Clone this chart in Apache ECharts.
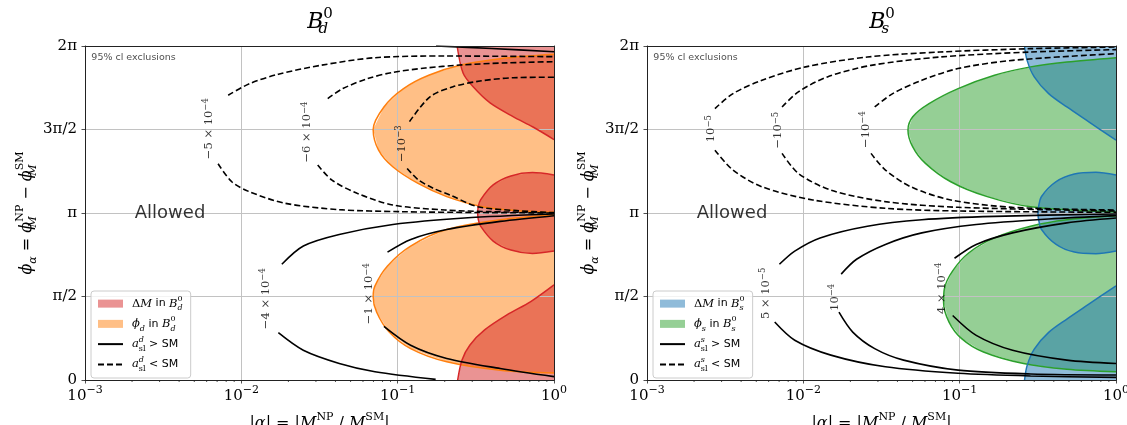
<!DOCTYPE html>
<html>
<head>
<meta charset="utf-8">
<title>Mixing phase exclusions</title>
<script src="https://cdn.jsdelivr.net/npm/echarts@6/dist/echarts.min.js"></script>
</head>
<body style="margin:0">
<div id="chart" style="width:1127px;height:425px;"></div>
<script>
// x = |alpha| (log axis), y = phi_alpha in units of pi

// ---- B_d panel ----
const dmdTop = [[0.240, 2], [0.262, 1.838], [0.303, 1.757], [0.390, 1.659], [0.547, 1.577], [0.734, 1.515], [1, 1.44]];
const dmdBlob = [[1, 1.228], [0.728, 1.242], [0.53, 1.222], [0.408, 1.168], [0.339, 1.079], [0.328, 1.04], [0.325, 1],
                 [0.328, 0.96], [0.339, 0.921], [0.408, 0.832], [0.53, 0.778], [0.728, 0.758], [1, 0.772]];
const dmdBottom = [[0.242, 0], [0.258, 0.12], [0.29, 0.21], [0.36, 0.3], [0.5, 0.39], [0.71, 0.47], [1, 0.57]];
const phidUpper = [[1, 1.95], [0.453, 1.924], [0.254, 1.886], [0.158, 1.825], [0.109, 1.745], [0.0817, 1.635], [0.0697, 1.5],
                   [0.0755, 1.376], [0.093, 1.277], [0.135, 1.177], [0.206, 1.098], [0.348, 1.038], [0.59, 1.014], [1, 1.004]];
const phidLower = [[1, 0.99], [0.453, 0.96], [0.206, 0.901], [0.121, 0.802], [0.0861, 0.683], [0.0716, 0.564], [0.0697, 0.499],
                   [0.0734, 0.406], [0.0883, 0.287], [0.121, 0.188], [0.206, 0.109], [0.453, 0.059], [1, 0.042]];

const asldPosA = [[0.01816, 0.693], [0.02494, 0.802], [0.04227, 0.871], [0.0932, 0.931], [0.267, 0.970], [1, 0.994]];
const asldPosALow = [[0.01725, 0.283], [0.0249, 0.178], [0.0423, 0.099], [0.0716, 0.0495], [0.175, 0.004]];
const asldPosAWrap = [[0.176, 2], [0.4, 1.985], [1, 1.966]];
const asldPosB = [[0.0861, 0.766], [0.1214, 0.842], [0.206, 0.901], [0.453, 0.950], [1, 0.984]];
const asldPosBLow = [[0.0817, 0.321], [0.121, 0.208], [0.206, 0.129], [0.453, 0.069], [1, 0.02]];

const asldNegA = [[0.00824, 1.705], [0.0113, 1.775], [0.01725, 1.831], [0.0325, 1.885], [0.0716, 1.93], [0.2, 1.94], [1, 1.936]];
const asldNegALow = [[0.0071, 1.295], [0.00869, 1.187], [0.0113, 1.127], [0.0191, 1.058], [0.0423, 1.02], [0.1035, 1.008], [0.33, 1.003], [1, 1.0]];
const asldNegB = [[0.0357, 1.685], [0.0446, 1.745], [0.0644, 1.805], [0.093, 1.842], [0.15, 1.868], [0.25, 1.886], [0.5, 1.899], [1, 1.906]];
const asldNegBLow = [[0.0308, 1.287], [0.038, 1.197], [0.055, 1.118], [0.093, 1.048], [0.2, 1.018], [0.4, 1.008], [1, 1.001]];
const asldNegC = [[0.119, 1.547], [0.161, 1.696], [0.226, 1.756], [0.336, 1.790], [0.547, 1.810], [1, 1.813]];
const asldNegCLow = [[0.115, 1.267], [0.135, 1.2], [0.169, 1.148], [0.216, 1.108], [0.325, 1.038], [0.578, 1.014], [1, 1.002]];

const tagsD = [[0.00617, 1.505, '−5 × 10^−4'], [0.0263, 1.485, '−6 × 10^−4'], [0.106, 1.415, '−10^−3'],
               [0.0143, 0.487, '−4 × 10^−4'], [0.066, 0.517, '−1 × 10^−4']];

// ---- B_s panel ----
const dmsTop = [[0.260, 2], [0.270, 1.914], [0.300, 1.815], [0.371, 1.715], [0.485, 1.635], [0.670, 1.546], [1, 1.436]];
const dmsBlob = [[1, 1.228], [0.744, 1.244], [0.541, 1.234], [0.414, 1.188], [0.334, 1.099], [0.320, 1.04], [0.317, 1],
                 [0.320, 0.96], [0.334, 0.901], [0.414, 0.812], [0.541, 0.766], [0.744, 0.756], [1, 0.772]];
const dmsBottom = [[0.260, 0], [0.270, 0.086], [0.300, 0.185], [0.371, 0.285], [0.485, 0.365], [0.670, 0.454], [1, 0.564]];
const phisUpper = [[1, 1.93], [0.485, 1.904], [0.284, 1.875], [0.167, 1.825], [0.0977, 1.745], [0.0637, 1.655], [0.0501, 1.576],
                   [0.0467, 1.496], [0.0501, 1.396], [0.0604, 1.297], [0.0877, 1.187], [0.150, 1.098], [0.284, 1.038], [1, 1.006]];
const phisLower = [[1, 0.984], [0.485, 0.960], [0.284, 0.921], [0.167, 0.851], [0.1146, 0.762], [0.0902, 0.653], [0.0798, 0.545],
                   [0.0789, 0.465], [0.0855, 0.347], [0.103, 0.248], [0.142, 0.168], [0.256, 0.099], [0.485, 0.065], [1, 0.05]];

const aslsPosA = [[0.00703, 0.693], [0.00881, 0.772], [0.0128, 0.851], [0.0257, 0.921], [0.0573, 0.960], [0.167, 0.980], [1, 0.994]];
const aslsPosALow = [[0.00656, 0.347], [0.00881, 0.238], [0.0150, 0.149], [0.0335, 0.079], [0.0977, 0.040], [0.284, 0.024], [1, 0.016]];
const aslsPosB = [[0.01746, 0.634], [0.0219, 0.723], [0.0335, 0.812], [0.0573, 0.881], [0.1276, 0.931], [0.371, 0.964], [1, 0.984]];
const aslsPosBLow = [[0.0169, 0.406], [0.0207, 0.287], [0.0286, 0.188], [0.0438, 0.119], [0.0977, 0.059], [0.284, 0.036], [1, 0.030]];
const aslsPosC = [[0.0927, 0.729], [0.1276, 0.812], [0.218, 0.881], [0.485, 0.941], [1, 0.970]];
const aslsPosCLow = [[0.0902, 0.386], [0.1276, 0.267], [0.218, 0.178], [0.485, 0.119], [1, 0.099]];

const aslsNegA = [[0.00272, 1.625], [0.00355, 1.715], [0.00544, 1.795], [0.01035, 1.875], [0.0257, 1.934], [0.0748, 1.964], [0.284, 1.984], [1, 1.994]];
const aslsNegALow = [[0.00272, 1.376], [0.00355, 1.257], [0.00544, 1.157], [0.0115, 1.078], [0.0335, 1.028], [0.0977, 1.012], [1, 1.004]];
const aslsNegB = [[0.00731, 1.635], [0.00929, 1.725], [0.01425, 1.815], [0.0271, 1.884], [0.0748, 1.934], [0.284, 1.964], [1, 1.978]];
const aslsNegBLow = [[0.00731, 1.357], [0.00929, 1.237], [0.0150, 1.137], [0.0335, 1.068], [0.0977, 1.034], [1, 1.012]];
const aslsNegC = [[0.0286, 1.635], [0.0373, 1.715], [0.0573, 1.795], [0.0977, 1.865], [0.218, 1.914], [1, 1.954]];
const aslsNegCLow = [[0.0271, 1.357], [0.0335, 1.257], [0.0487, 1.157], [0.0877, 1.078], [0.218, 1.034], [1, 1.018]];

const tagsS = [[0.00258, 1.505, '10^−5'], [0.00692, 1.496, '−10^−5'], [0.025, 1.5, '−10^−4'],
               [0.00574, 0.519, '5 × 10^−5'], [0.01585, 0.495, '10^−4'], [0.0767, 0.549, '4 × 10^−4']];

// text annotations (both panels)
const notes = [[0.00109, 1.928, '95% cl exclusions'], [0.0035, 1.0, 'Allowed']];
const yTickText = {0: '0', 0.5: 'π/2', 1: 'π', 1.5: '3π/2', 2: '2π'};
const minorTickValues = [0.002, 0.003, 0.004, 0.005, 0.006, 0.007, 0.008, 0.009,
                         0.02, 0.03, 0.04, 0.05, 0.06, 0.07, 0.08, 0.09,
                         0.2, 0.3, 0.4, 0.5, 0.6, 0.7, 0.8, 0.9];

const serif = 'DejaVu Serif';
const sans = 'DejaVu Sans';
const red = 'rgba(214,39,40,0.5)', orange = 'rgba(255,127,14,0.5)';
const blue = 'rgba(31,119,180,0.5)', green = 'rgba(44,160,44,0.5)';

const mathRich = function (size) {
  const s = Math.round(size * 0.68);
  return {
    i: {fontFamily: serif, fontStyle: 'italic', fontSize: size, lineHeight: size * 1.5},
    m: {fontFamily: serif, fontSize: size, lineHeight: size * 1.5},
    t: {fontFamily: serif, fontSize: s, lineHeight: s, verticalAlign: 'top'},
    zti: {fontFamily: serif, fontStyle: 'italic', fontSize: s, lineHeight: s, verticalAlign: 'top', width: 0},
    zb: {fontFamily: serif, fontSize: s, lineHeight: s, verticalAlign: 'bottom', width: 0},
    zbi: {fontFamily: serif, fontStyle: 'italic', fontSize: s, lineHeight: s, verticalAlign: 'bottom', width: 0},
    si: {fontFamily: serif, fontStyle: 'italic', fontSize: s, lineHeight: s, verticalAlign: 'bottom'},
    sr: {fontFamily: serif, fontSize: s, lineHeight: s, verticalAlign: 'bottom'},
    e: {fontFamily: serif, fontSize: s, lineHeight: s, verticalAlign: 'top'}
  };
};

function fill(name, pts, color, g, z) {
  return {
    type: 'custom', name: name, xAxisIndex: g, yAxisIndex: g, z: z, silent: true,
    itemStyle: {color: color}, data: pts,
    renderItem: function (params, api) {
      if (params.dataIndex !== 0) return null;
      return {type: 'polygon', shape: {points: pts.map(function (p) { return api.coord(p); })},
              style: {fill: color}};
    }
  };
}

function edge(pts, color, g) {
  return {type: 'line', xAxisIndex: g, yAxisIndex: g, z: 4, data: pts, symbol: 'none', smooth: 0.3,
          silent: true, lineStyle: {color: color, width: 1.5}};
}

function contour(name, pts, dashed, g) {
  return {type: 'line', name: name, xAxisIndex: g, yAxisIndex: g, z: 5, data: pts, symbol: 'none',
          smooth: 0.3, silent: true, itemStyle: {color: '#000'},
          lineStyle: {color: '#000', width: 1.6, type: dashed ? [6, 3] : 'solid'}};
}

function tags(list, g) {
  return {
    type: 'scatter', xAxisIndex: g, yAxisIndex: g, z: 6, symbolSize: 1, silent: true,
    itemStyle: {color: 'rgba(0,0,0,0)'},
    data: list.map(function (t) { return {value: [t[0], t[1]], tag: t[2]}; }),
    label: {
      show: true, position: 'inside', rotate: 90, color: '#000', fontFamily: serif, fontSize: 11.5, lineHeight: 14,
      formatter: function (p) { return p.data.tag.replace(/\^(\S+)/, '{e|$1}'); },
      rich: {e: {fontFamily: serif, fontSize: 8.5, lineHeight: 8, verticalAlign: 'top'}}
    }
  };
}

function annotations(g) {
  return {
    type: 'scatter', xAxisIndex: g, yAxisIndex: g, z: 6, symbolSize: 1, silent: true,
    itemStyle: {color: 'rgba(0,0,0,0)'},
    data: [
      {value: [notes[0][0], notes[0][1]], label: {show: true, position: 'right', distance: 0,
        formatter: notes[0][2], fontFamily: sans, fontSize: 9.5, color: '#222'}},
      {value: [notes[1][0], notes[1][1]], label: {show: true, position: 'inside',
        formatter: notes[1][2], fontFamily: sans, fontSize: 18, color: '#000'}}
    ]
  };
}

function minorTicks(g) {
  return {
    type: 'custom', xAxisIndex: g, yAxisIndex: g, z: 6, silent: true,
    data: minorTickValues.map(function (v) { return [v, 0]; }),
    renderItem: function (params, api) {
      const p = api.coord([api.value(0), 0]);
      return {type: 'line', shape: {x1: p[0], y1: p[1], x2: p[0], y2: p[1] + 2},
              style: {stroke: '#222', lineWidth: 0.8}};
    }
  };
}

function mainX(g) {
  return {
    type: 'log', gridIndex: g, min: 0.001, max: 1, logBase: 10, splitNumber: 3, z: 3,
    name: '|{i|α}| = |{i|M}{zb|12}{t|NP} / {i|M}{zb|12}{t|SM}|', nameLocation: 'middle', nameGap: 16,
    nameTextStyle: {fontFamily: serif, fontSize: 16, lineHeight: 24, color: '#000', rich: mathRich(16)},
    axisLine: {show: true, onZero: false, lineStyle: {color: '#222', width: 1}},
    axisTick: {show: true, length: 3.5, lineStyle: {color: '#222', width: 0.8}},
    axisLabel: {
      color: '#000', fontFamily: serif, fontSize: 15, lineHeight: 22, margin: 5,
      formatter: function (v) {
        const e = Math.round(Math.log10(v));
        return '10{e|' + (e < 0 ? '−' + (-e) : e) + '}';
      },
      rich: {e: {fontFamily: serif, fontSize: 11, lineHeight: 10, verticalAlign: 'top'}}
    },
    splitLine: {show: true, showMinLine: false, showMaxLine: false, lineStyle: {color: '#c2c2c2', width: 1}}
  };
}

function mainY(g) {
  return {
    type: 'value', gridIndex: g, min: 0, max: 2, interval: 0.5, z: 3,
    name: '{i|ϕ}{si|α} = {i|ϕ}{zbi|M}{t|NP} − {i|ϕ}{zbi|M}{t|SM}', nameLocation: 'middle', nameGap: 46, nameRotate: 90,
    nameTextStyle: {fontFamily: serif, fontSize: 16, lineHeight: 24, color: '#000', rich: mathRich(16)},
    axisLine: {show: true, lineStyle: {color: '#222', width: 1}},
    axisTick: {show: true, length: 3.5, lineStyle: {color: '#222', width: 0.8}},
    axisLabel: {color: '#000', fontFamily: serif, fontSize: 15, margin: 8,
      formatter: function (v) { return yTickText[v]; }},
    splitLine: {show: true, showMinLine: false, showMaxLine: false, lineStyle: {color: '#c2c2c2', width: 1}}
  };
}

function spine(kind, g) {
  return {
    type: 'value', gridIndex: g, min: 0, max: 1, z: 6, position: kind,
    axisLine: {show: true, onZero: false, lineStyle: {color: '#222', width: 1}},
    axisTick: {show: false}, axisLabel: {show: false}, splitLine: {show: false}
  };
}

const legendText = {
  dM_d: '{m|Δ}{i|M} in {i|B}{zbi|d}{t|0}',
  phi_d: '{i|ϕ}{si|d} in {i|B}{zbi|d}{t|0}',
  pos_d: '{i|a}{zti|d}{sr|sl} > SM',
  neg_d: '{i|a}{zti|d}{sr|sl} < SM',
  dM_s: '{m|Δ}{i|M} in {i|B}{zbi|s}{t|0}',
  phi_s: '{i|ϕ}{si|s} in {i|B}{zbi|s}{t|0}',
  pos_s: '{i|a}{zti|s}{sr|sl} > SM',
  neg_s: '{i|a}{zti|s}{sr|sl} < SM'
};

function legend(left, k) {
  const noDot = {color: 'rgba(0,0,0,0)', borderWidth: 0, opacity: 0};
  return {
    left: left, top: 291, orient: 'vertical', z: 10, selectedMode: false,
    data: [{name: 'dM_' + k, icon: 'rect'}, {name: 'phi_' + k, icon: 'rect'},
           {name: 'pos_' + k, itemStyle: noDot}, {name: 'neg_' + k, itemStyle: noDot}],
    itemWidth: 25, itemHeight: 8, itemGap: 3, padding: [4, 8, 5, 6],
    backgroundColor: 'rgba(255,255,255,0.8)', borderColor: '#cccccc', borderWidth: 1, borderRadius: 3,
    formatter: function (n) { return legendText[n]; },
    textStyle: {fontFamily: sans, fontSize: 11, lineHeight: 16, color: '#000', padding: [0, 0, 0, 4], rich: mathRich(11.5)}
  };
}

const series = [
  fill('phi_d', phidUpper, orange, 0, 1),
  fill('phi_d', phidLower, orange, 0, 1),
  fill('dM_d', dmdTop.concat([[1, 2]]), red, 0, 2),
  fill('dM_d', dmdBlob, red, 0, 2),
  fill('dM_d', dmdBottom.concat([[1, 0]]), red, 0, 2),
  edge(phidUpper, '#ff7f0e', 0), edge(phidLower, '#ff7f0e', 0),
  edge(dmdTop, '#d62728', 0), edge(dmdBlob, '#d62728', 0), edge(dmdBottom, '#d62728', 0),
  contour('pos_d', asldPosA, false, 0), contour('pos_d', asldPosALow, false, 0), contour('pos_d', asldPosAWrap, false, 0),
  contour('pos_d', asldPosB, false, 0), contour('pos_d', asldPosBLow, false, 0),
  contour('neg_d', asldNegA, true, 0), contour('neg_d', asldNegALow, true, 0),
  contour('neg_d', asldNegB, true, 0), contour('neg_d', asldNegBLow, true, 0),
  contour('neg_d', asldNegC, true, 0), contour('neg_d', asldNegCLow, true, 0),
  tags(tagsD, 0), annotations(0), minorTicks(0),

  fill('phi_s', phisUpper, green, 1, 1),
  fill('phi_s', phisLower, green, 1, 1),
  fill('dM_s', dmsTop.concat([[1, 2]]), blue, 1, 2),
  fill('dM_s', dmsBlob, blue, 1, 2),
  fill('dM_s', dmsBottom.concat([[1, 0]]), blue, 1, 2),
  edge(phisUpper, '#2ca02c', 1), edge(phisLower, '#2ca02c', 1),
  edge(dmsTop, '#1f77b4', 1), edge(dmsBlob, '#1f77b4', 1), edge(dmsBottom, '#1f77b4', 1),
  contour('pos_s', aslsPosA, false, 1), contour('pos_s', aslsPosALow, false, 1),
  contour('pos_s', aslsPosB, false, 1), contour('pos_s', aslsPosBLow, false, 1),
  contour('pos_s', aslsPosC, false, 1), contour('pos_s', aslsPosCLow, false, 1),
  contour('neg_s', aslsNegA, true, 1), contour('neg_s', aslsNegALow, true, 1),
  contour('neg_s', aslsNegB, true, 1), contour('neg_s', aslsNegBLow, true, 1),
  contour('neg_s', aslsNegC, true, 1), contour('neg_s', aslsNegCLow, true, 1),
  tags(tagsS, 1), annotations(1), minorTicks(1)
];

const titleRich = {
  b: {fontFamily: serif, fontStyle: 'italic', fontSize: 22, lineHeight: 30},
  t: {fontFamily: serif, fontSize: 15, lineHeight: 15, verticalAlign: 'top'},
  zbi: {fontFamily: serif, fontStyle: 'italic', fontSize: 15, lineHeight: 15, verticalAlign: 'bottom', width: 0}
};

const option = {
  backgroundColor: '#fff',
  animation: false,
  grid: [
    {left: 85, top: 46, width: 469, height: 334, outerBoundsMode: 'none'},
    {left: 647, top: 46, width: 469, height: 334, outerBoundsMode: 'none'}
  ],
  xAxis: [mainX(0), mainX(1), spine('top', 0), spine('top', 1)],
  yAxis: [mainY(0), mainY(1), spine('right', 0), spine('right', 1)],
  legend: [legend(91, 'd'), legend(653, 's')],
  graphic: [
    {type: 'text', x: 320, y: 22, z: 10, style: {text: '{b|B}{zbi|d}{t|0}', rich: titleRich, align: 'center', verticalAlign: 'middle'}},
    {type: 'text', x: 882, y: 22, z: 10, style: {text: '{b|B}{zbi|s}{t|0}', rich: titleRich, align: 'center', verticalAlign: 'middle'}}
  ],
  series: series
};

const chart = echarts.init(document.getElementById('chart'));
chart.setOption(option);
</script>
</body>
</html>
